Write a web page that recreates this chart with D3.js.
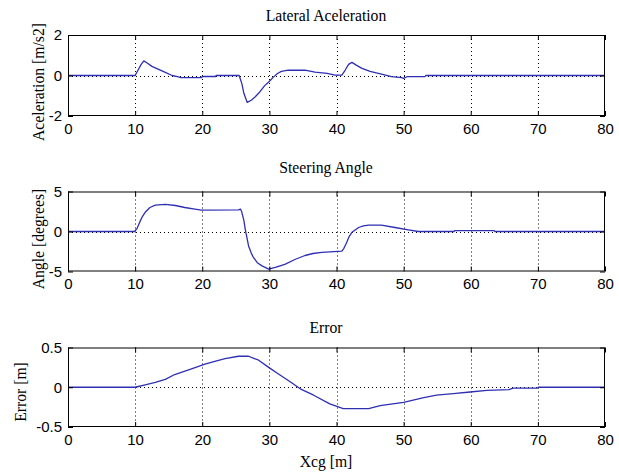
<!DOCTYPE html>
<html>
<head>
<meta charset="utf-8">
<script src="https://cdn.jsdelivr.net/npm/d3@7"></script>
<style>
  html, body { margin: 0; padding: 0; background: #fff; }
  svg { display: block; }
  .tick text { font-family: "Liberation Sans", Arial, sans-serif; font-size: 15px; fill: #000; }
  .lbl { font-family: "Liberation Serif", "Times New Roman", serif; font-size: 15.7px; fill: #000; }
</style>
</head>
<body>
<script>
// Distance travelled by the vehicle's centre of gravity [m]
const xTicks = [0, 10, 20, 30, 40, 50, 60, 70, 80];

// Lateral acceleration [m/s2]
const accelX = [0, 10, 10.4, 10.9, 11.3, 11.8, 12.5, 13.5, 14.5, 15.5, 16.3, 16.8, 19.9, 20.0, 22.0, 22.05,
  25.5, 25.9, 26.2, 26.7, 27.3, 27.9, 28.6, 29.3, 29.9, 30.6, 31.2, 31.8, 32.8, 35.3, 36.8, 38.6, 39.8,
  40.8, 41.3, 41.8, 42.3, 43.0, 43.8, 45.0, 46.7, 48.2, 49.7, 50.0, 50.5, 53.2, 53.3, 80];
const accelY = [0, 0, 0.25, 0.55, 0.72, 0.62, 0.45, 0.3, 0.15, 0.0, -0.06, -0.1, -0.1, -0.05, -0.05, 0,
  0, -0.4, -0.88, -1.33, -1.22, -1.05, -0.8, -0.5, -0.32, -0.08, 0.1, 0.2, 0.26, 0.26, 0.17, 0.1, 0.02,
  0.02, 0.27, 0.55, 0.65, 0.5, 0.35, 0.2, 0.07, -0.06, -0.1, -0.14, -0.06, -0.05, 0, 0];
const accelTicks = [-2, 0, 2];

// Steering angle [degrees]
const steerX = [0, 9.9, 10.3, 10.7, 11.1, 11.5, 12.2, 13.0, 14.5, 16.0, 17.4, 18.9, 19.9, 25.4, 25.7,
  25.9, 26.2, 26.4, 26.9, 27.3, 27.6, 28.2, 28.9, 29.9, 31.0, 32.3, 33.8, 35.3, 36.5, 37.8, 40.8,
  41.1, 41.5, 41.9, 42.3, 43.3, 44.0, 44.8, 46.7, 48.7, 50.7, 52.2, 57.5, 57.6, 63.5, 63.6, 80];
const steerY = [0, 0, 0.4, 1.2, 1.9, 2.4, 3.0, 3.3, 3.4, 3.25, 3.0, 2.8, 2.67, 2.7, 2.8,
  2.4, 1.4, 0.3, -1.8, -2.7, -3.2, -3.9, -4.3, -4.7, -4.45, -4.1, -3.5, -3.0, -2.75, -2.6, -2.45,
  -2.1, -1.4, -0.6, -0.1, 0.5, 0.7, 0.8, 0.8, 0.5, 0.2, 0, 0, 0.1, 0.1, 0, 0];
const steerTicks = [-5, 0, 5];

// Lateral path error [m]
const errX = [0, 10, 11.5, 13, 14.5, 15.9, 18.4, 20.4, 22, 23.4, 25.4, 26.9, 28.4, 29.9, 31.3, 33.1,
  34.6, 36.6, 39, 41, 44.8, 46.5, 50, 53, 54.9, 57.4, 59.9, 62.4, 65.7, 66.3, 70, 70.05, 80];
const errY = [0, 0, 0.03, 0.06, 0.1, 0.16, 0.23, 0.29, 0.33, 0.36, 0.39, 0.39, 0.34, 0.25, 0.17, 0.07,
  -0.02, -0.1, -0.21, -0.27, -0.27, -0.23, -0.19, -0.13, -0.1, -0.08, -0.06, -0.04, -0.03, -0.01, -0.01, 0, 0];
const errTicks = [-0.5, 0, 0.5];

const W = 619, H = 472;
const left = 68, right = 605;
const lineColor = "#2f2fb2";

const panels = [
  { title: "Lateral Aceleration", ylabel: "Aceleration [m/s2]", xs: accelX, ys: accelY, ticks: accelTicks,
    top: 35, bottom: 116, titleY: 21, labelX: 44, labelY: 82 },
  { title: "Steering Angle", ylabel: "Angle [degrees]", xs: steerX, ys: steerY, ticks: steerTicks,
    top: 191.5, bottom: 271.5, titleY: 173, labelX: 44, labelY: 239 },
  { title: "Error", ylabel: "Error [m]", xs: errX, ys: errY, ticks: errTicks,
    top: 347.5, bottom: 427, titleY: 333, labelX: 26, labelY: 392 }
];

const svg = d3.select("body").append("svg").attr("width", W).attr("height", H);
svg.append("rect").attr("width", W).attr("height", H).attr("fill", "#fff");

const x = d3.scaleLinear().domain([0, 80]).range([left, right]);
const fmt = v => String(v);

panels.forEach(p => {
  const y = d3.scaleLinear().domain([p.ticks[0], p.ticks[p.ticks.length - 1]]).range([p.bottom, p.top]);
  const g = svg.append("g");

  // dotted grid
  const grid = g.append("g").attr("stroke", "#000").attr("stroke-width", 1).attr("stroke-dasharray", "1,3");
  grid.selectAll("line.vx").data(xTicks.slice(1, -1)).join("line")
    .attr("x1", d => Math.round(x(d)) + 0.5).attr("x2", d => Math.round(x(d)) + 0.5)
    .attr("y1", p.top).attr("y2", p.bottom);
  grid.selectAll("line.hy").data(p.ticks.slice(1, -1)).join("line")
    .attr("y1", d => Math.round(y(d)) + 0.5).attr("y2", d => Math.round(y(d)) + 0.5)
    .attr("x1", left).attr("x2", right);

  // data line
  const pts = p.xs.map((v, i) => [v, p.ys[i]]);
  g.append("path").datum(pts)
    .attr("fill", "none").attr("stroke", lineColor).attr("stroke-width", 1.3)
    .attr("stroke-linejoin", "round")
    .attr("d", d3.line().x(d => x(d[0])).y(d => y(d[1])));

  // axes with inward ticks
  const ax = (gen, tx, ty, labels) => {
    const a = g.append("g").attr("transform", `translate(${tx},${ty})`).call(gen);
    a.select(".domain").remove();
    a.selectAll(".tick line").attr("stroke", "#000");
    if (!labels) a.selectAll(".tick text").remove();
    return a;
  };
  ax(d3.axisBottom(x).tickValues(xTicks).tickFormat(fmt).tickSizeInner(-5).tickPadding(7), 0, p.bottom, true);
  ax(d3.axisTop(x).tickValues(xTicks).tickSizeInner(-5), 0, p.top, false);
  ax(d3.axisLeft(y).tickValues(p.ticks).tickFormat(fmt).tickSizeInner(-5).tickPadding(6), left, 0, true);
  ax(d3.axisRight(y).tickValues(p.ticks).tickSizeInner(-5), right, 0, false);

  // box
  g.append("rect").attr("x", left + 0.5).attr("y", p.top + 0.5)
    .attr("width", right - left - 1).attr("height", p.bottom - p.top - 1)
    .attr("fill", "none").attr("stroke", "#000").attr("stroke-width", 1);

  g.append("text").attr("class", "lbl").attr("x", 326).attr("y", p.titleY)
    .attr("text-anchor", "middle").text(p.title);
  g.append("text").attr("class", "lbl")
    .attr("transform", `translate(${p.labelX},${p.labelY}) rotate(-90)`)
    .attr("text-anchor", "middle").text(p.ylabel);
});

svg.append("text").attr("class", "lbl").attr("x", 326).attr("y", 467)
  .attr("text-anchor", "middle").text("Xcg [m]");
</script>
</body>
</html>
